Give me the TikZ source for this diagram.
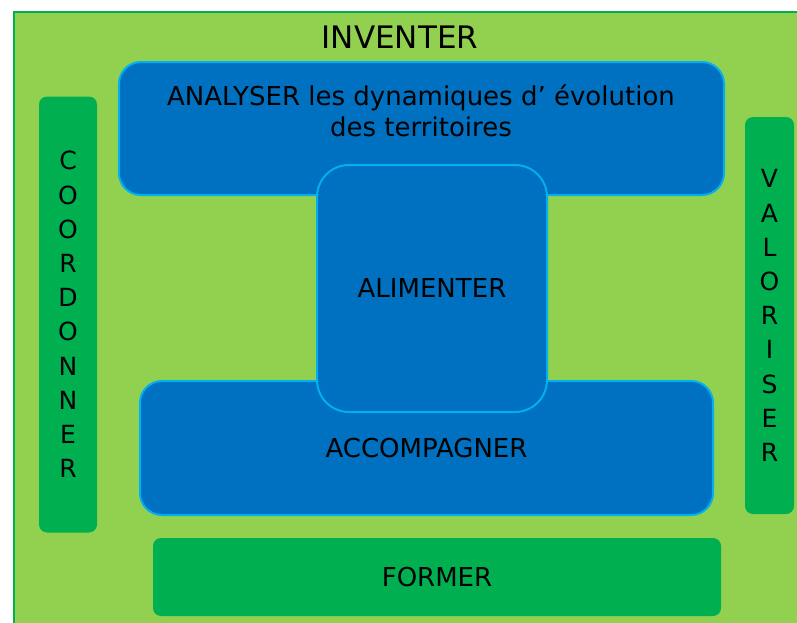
\documentclass[tikz,border=0pt]{standalone}
\usepackage{fontspec}
\setmainfont{DejaVu Sans}
\definecolor{pale}{HTML}{92D050}
\definecolor{leaf}{HTML}{00B050}
\definecolor{deep}{HTML}{0070C0}
\definecolor{sky}{HTML}{00B0F0}
\tikzset{
  bluebox/.style={draw=sky,line width=2pt,fill=deep,rounded corners=22pt,inner sep=0pt},
  greenbar/.style={fill=leaf,rounded corners=8pt,inner sep=0pt},
  word/.style={font=\fontsize{26}{31}\selectfont},
  column/.style={font=\fontsize{25}{34.2}\selectfont,align=center}
}
\begin{document}
\begin{tikzpicture}[x=1pt,y=-1pt]
  \useasboundingbox (0,0) rectangle (797,622);
  \clip (0,0) rectangle (797,622);
  \fill[white] (0,0) rectangle (797,622);
  \draw[leaf,line width=2.5pt,fill=pale] (14,12) rectangle (830,650);

  \node[font=\fontsize{31}{36}\selectfont] (inventer) at (400,37) {INVENTER};

  % blocs bleus
  \node[bluebox,minimum width=605pt,minimum height=133pt] (analyser) at (421.5,128.5) {};
  \node[word,align=center,inner sep=0pt] (analysertxt) at (421,111) {ANALYSER les dynamiques d' évolution\\des territoires};
  \node[bluebox,minimum width=573pt,minimum height=134pt,word] (accompagner) at (426.5,448) {ACCOMPAGNER};
  \node[bluebox,rounded corners=32pt,minimum width=230pt,minimum height=247pt,word] (alimenter) at (432,288.5) {ALIMENTER};

  % barres vertes
  \node[greenbar,minimum width=58pt,minimum height=436pt,column] (coordonner) at (68,314.5) {C\\O\\O\\R\\D\\O\\N\\N\\E\\R};
  \node[greenbar,minimum width=49pt,minimum height=397pt,column] (valoriser) at (769.5,315.5) {V\\A\\L\\O\\R\\I\\S\\E\\R};
  \node[greenbar,minimum width=568pt,minimum height=78pt,word] (former) at (437,577) {FORMER};
\end{tikzpicture}
\end{document}
